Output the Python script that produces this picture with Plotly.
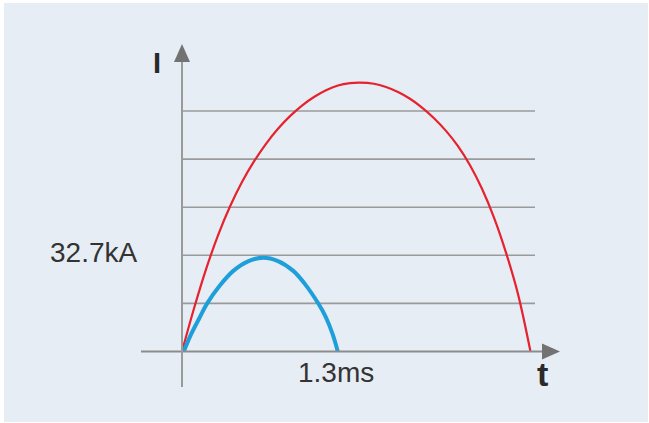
import plotly.graph_objects as go

# ---- data (t in ms, I in kA; 16.35 kA per gridline) ----
T_RED = [0, 0.1, 0.2, 0.3, 0.4, 0.5, 0.6, 0.7, 0.8, 0.9, 1.0, 1.1, 1.2, 1.3, 1.4, 1.48,
         1.6, 1.7, 1.8, 1.9, 2.0, 2.1, 2.2, 2.3, 2.4, 2.5, 2.6, 2.7, 2.8, 2.904]
I_RED = [0, 14.6, 27.9, 39.5, 49.3, 57.6, 64.6, 70.6, 75.7, 80.0, 83.6, 86.5, 88.8, 90.4, 91.2, 91.4,
         91.0, 89.9, 88.2, 85.9, 82.9, 79.3, 75.0, 69.8, 63.3, 55.3, 45.5, 33.6, 19.5, 0]
T_BLUE = [0.015, 0.075, 0.144, 0.206, 0.317, 0.4275, 0.55, 0.6775, 0.8, 0.9275, 1.025, 1.136, 1.1975, 1.256, 1.298]
I_BLUE = [0, 5.8, 11.3, 16.1, 22.5, 27.4, 30.65, 31.88, 30.75, 27.4, 22.9, 16.3, 11.8, 5.8, 0]
GRID_KA = [16.35, 32.7, 49.05, 65.4, 81.75]
PEAK_LABEL = "32.7kA"
TIME_LABEL = "1.3ms"
Y_TITLE = "I"
X_TITLE = "t"

W, H = 649, 423
# pixel mapping (plot area covers whole figure)
X0_PX, PX_PER_MS = 182.0, 120.0
Y0_PX, PX_PER_KA = 351.5, 48.1 / 16.35

def dx(px):
    return (px - X0_PX) / PX_PER_MS

def dy(py):
    return (Y0_PX - py) / PX_PER_KA

xr = [dx(0), dx(W)]
yr = [dy(H), dy(0)]

fig = go.Figure()

shapes = []
# panel background
shapes.append(dict(type="rect", xref="x", yref="y", x0=dx(4), x1=dx(648), y0=dy(422), y1=dy(3),
                   fillcolor="#e7edf4", line=dict(width=0), layer="below"))
# gridlines
for g in GRID_KA:
    shapes.append(dict(type="line", xref="x", yref="y", x0=0, x1=dx(535), y0=g, y1=g,
                       line=dict(color="#9a9a9a", width=1.6), layer="below"))
# axes
shapes.append(dict(type="line", xref="x", yref="y", x0=dx(141), x1=dx(544), y0=0, y1=0,
                   line=dict(color="#8c8c8c", width=2)))
shapes.append(dict(type="line", xref="x", yref="y", x0=0, x1=0, y0=dy(387), y1=dy(60),
                   line=dict(color="#9a9a9a", width=2)))
# arrowheads
def tri(p1, p2, p3):
    return "M {} {} L {} {} L {} {} Z".format(dx(p1[0]), dy(p1[1]), dx(p2[0]), dy(p2[1]), dx(p3[0]), dy(p3[1]))
shapes.append(dict(type="path", xref="x", yref="y", path=tri((182, 44), (174, 62), (190, 62)),
                   fillcolor="#727272", line=dict(width=0)))
shapes.append(dict(type="path", xref="x", yref="y", path=tri((560, 351.5), (542, 343.5), (542, 359.5)),
                   fillcolor="#727272", line=dict(width=0)))

fig.add_trace(go.Scatter(x=T_RED, y=I_RED, mode="lines",
                         line=dict(color="#e5222e", width=2.2, shape="spline", smoothing=1.0),
                         hoverinfo="skip", showlegend=False))
fig.add_trace(go.Scatter(x=T_BLUE, y=I_BLUE, mode="lines",
                         line=dict(color="#1e9fda", width=4, shape="spline", smoothing=1.0),
                         hoverinfo="skip", showlegend=False))

font = "Liberation Sans, Arial, sans-serif"
annotations = [
    dict(x=dx(48), y=dy(252), text=PEAK_LABEL, xanchor="left", yanchor="middle", showarrow=False,
         font=dict(family=font, size=28, color="#333333")),
    dict(x=dx(335.7), y=dy(372), text=TIME_LABEL, xanchor="center", yanchor="middle", showarrow=False,
         font=dict(family=font, size=28, color="#333333")),
    dict(x=dx(156.5), y=dy(62.5), text="<b>" + Y_TITLE + "</b>", xanchor="center", yanchor="middle", showarrow=False,
         font=dict(family=font, size=29, color="#2a2a2a")),
    dict(x=dx(542), y=dy(374), text="<b>" + X_TITLE + "</b>", xanchor="center", yanchor="middle", showarrow=False,
         font=dict(family=font, size=34, color="#2a2a2a")),
]

fig.update_layout(
    width=W, height=H, margin=dict(l=0, r=0, t=0, b=0),
    paper_bgcolor="white", plot_bgcolor="white",
    xaxis=dict(range=xr, visible=False, fixedrange=True),
    yaxis=dict(range=yr, visible=False, fixedrange=True),
    shapes=shapes, annotations=annotations, showlegend=False,
)

fig.write_html("out.html", config={"displayModeBar": False},
               post_script="document.body.style.margin='0px';document.body.style.overflow='hidden';")
